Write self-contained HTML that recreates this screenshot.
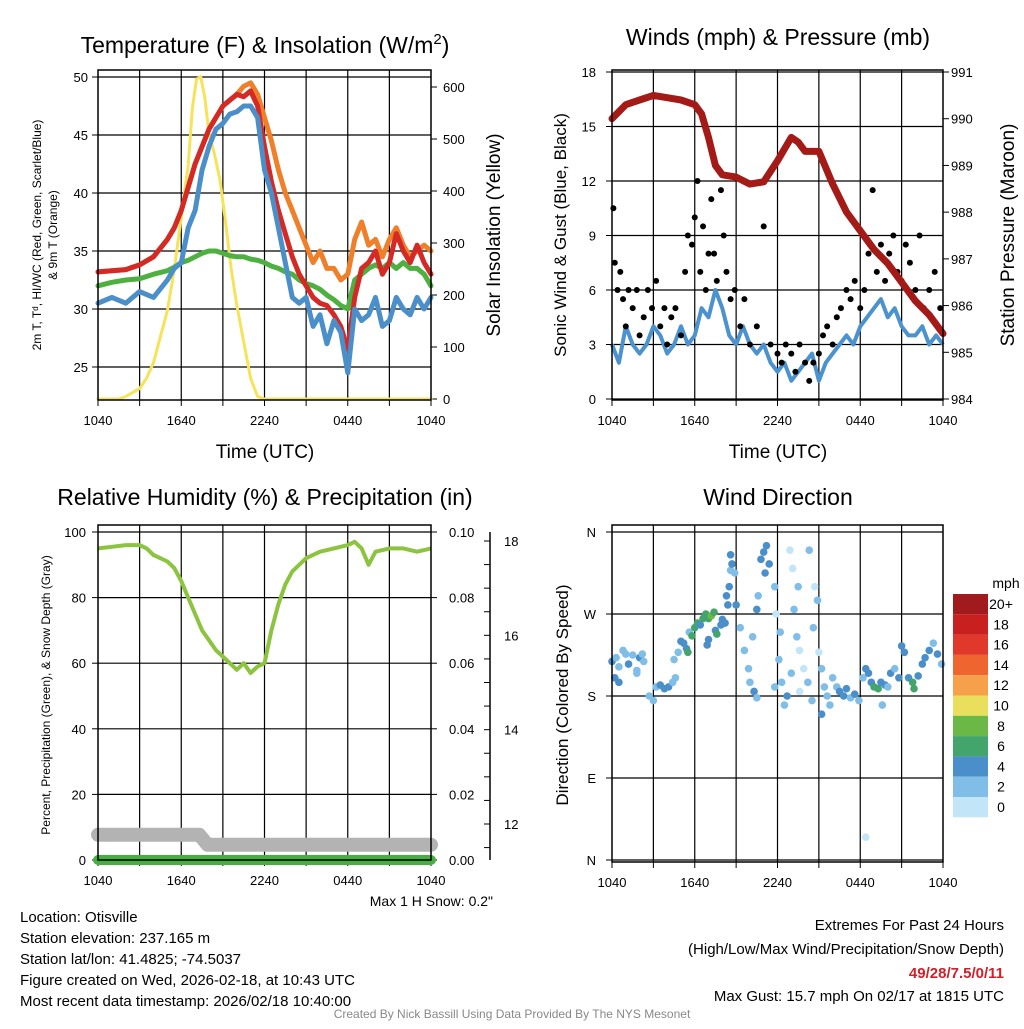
<!DOCTYPE html>
<html><head><meta charset="utf-8"><style>
body{margin:0;background:#fff;width:1024px;height:1024px;overflow:hidden}
svg text{font-family:"Liberation Sans",sans-serif;fill:#000}
</style></head><body>
<svg id="s" width="1024" height="1024" viewBox="0 0 1024 1024" xmlns="http://www.w3.org/2000/svg"></svg>
<script>
// ---------- DATA ----------
const tempTimes=[0,1,2,3,4,5,5.5,6,6.5,7,7.5,8,8.5,9,9.5,10,10.5,11,11.5,12,12.5,13,13.5,14,14.5,15,15.5,16,16.5,17,17.5,18,18.5,19,19.5,20,20.5,21,21.5,22,22.5,23,23.5,24];
const tempRed=[33.2,33.3,33.4,33.8,34.5,36,37,38.5,40.5,42.5,44,45.5,46.5,47.5,48,48.5,48.3,48.8,47.5,44,41,38.5,36.5,34.5,33,32,31,30.5,30.3,29.5,28.5,26.5,31,33.5,34,35,33,34,36.5,35,34,35.5,34,33];
const tempOrange=[33.2,33.3,33.4,33.8,34.5,36,37,38.5,40.5,42.5,44,45.5,46.5,47.5,48,48.5,49.2,49.5,48.5,46.5,44.5,42,40,38.5,37,35.5,34,35,33.5,33.5,32.5,33,36,37.5,35.5,36,34.5,36,37,35.5,34.5,35,35.5,35];
const tempBlue=[30.5,31,30.5,31.5,31,32.5,33.5,34,37,38.5,42,44,45.5,46,46.8,47,47.5,47.5,46.5,42,40,37,34,31,30.5,31,28.5,29.5,27,29,28,24.5,30,29,29.5,31,28.5,29,31,30,29.5,31,30,31];
const tempGreen=[32,32.3,32.5,32.6,33,33.3,33.6,34,34.2,34.5,34.8,35,35,34.8,34.6,34.5,34.5,34.3,34.2,34,33.7,33.5,33.2,33,32.5,32.2,32,31.7,31.2,30.8,30.3,30,32.5,33,33.5,33.8,33.5,34,33.5,34,33.5,33.5,33,32];
const solTimes=[0,1.5,2,3,3.5,4,4.5,5,5.5,6,6.5,6.8,7.1,7.4,7.7,8,8.4,8.8,9.2,9.6,10,10.5,11,11.5,12,24];
const solVals=[0,0,5,20,40,70,120,170,250,350,450,560,615,620,580,510,470,420,340,250,180,110,40,5,0,0];
const presTimes=[0,1,2,3,4,5,6,6.5,7,7.5,8,9,10,11,12,13,13.5,14,15,16,17,18,19,20,21,22,23,24];
const presVals=[990,990.3,990.4,990.5,990.45,990.4,990.3,990.1,989.6,989.0,988.8,988.75,988.6,988.65,989.1,989.6,989.5,989.3,989.3,988.6,988.0,987.6,987.2,986.9,986.5,986.1,985.8,985.4];
const windTimes=[0,0.5,1,1.5,2,2.5,3,3.5,4,4.5,5,5.5,6,6.5,7,7.5,8,8.5,9,9.5,10,10.5,11,11.5,12,12.5,13,13.5,14,14.5,15,15.5,16,16.5,17,17.5,18,18.5,19,19.5,20,20.5,21,21.5,22,22.5,23,23.5,24];
const windVals=[3,2,4,3,2.5,3,4,3.5,2.5,3,4,3,3.5,5,4.5,6,5,3.5,3,4,3,2.5,3,2,1.5,2,1,1.5,2,2.5,1,2,2.5,3,3.5,3,4,4.5,5,5.5,4.5,5,4,3.5,3.5,4,3,3.5,3];
const gustTimes=[0.1,0.2,0.4,0.6,0.8,1,1.2,1.5,1.8,2,2.3,2.6,2.9,3.2,3.5,3.8,4,4.3,4.6,5,5.3,5.5,5.8,6,6.2,6.4,6.6,6.8,7,7.2,7.4,7.6,7.9,8.1,8.3,8.6,8.9,9.3,9.6,10,10.5,11,11.5,12,12.3,12.6,13,13.3,13.6,14,14.3,14.6,15,15.3,15.6,16,16.3,16.6,17,17.3,17.6,18,18.3,18.6,18.9,19.2,19.5,19.8,20.1,20.4,20.7,21,21.3,21.6,22,22.3,22.6,23,23.4,23.8];
const gustVals=[10.5,7.5,6,7,5.5,4,6,5,6,3.5,4.5,6,5,6.5,4,5,3,4.5,5,3.5,7,9,8.5,10,12,7,9.5,6,8,11,8,6.5,11.5,9,7,5.5,6,4,5.5,3,4,9.5,3,2.5,2,3,2.5,1.5,3,2,1,2,2.5,3.5,4,3,4.5,5,6,5.5,6.5,5,6,8,11.5,7,8.5,6.5,8,9,7,6.5,8.5,7.5,6,9,5,6,7,5];
const rhTimes=[0,1,2,3,3.5,4,4.5,5,5.5,6,6.5,7,7.5,8,8.5,9,9.5,10,10.5,11,11.5,12,12.5,13,13.5,14,15,16,17,18,18.5,19,19.5,20,21,22,23,24];
const rhVals=[95,95.5,96,96,95,93,92,91,89,85,80,75,70,67,64,62,60,58,60,57,59,60,70,78,84,88,92,94,95,96,97,95,90,94,95,95,94,95];
const snowTimes=[0,7.3,7.9,24];
const snowVals=[11.77,11.77,11.56,11.56];
const precipVals=[0,0];
const dirTimes=[0,0.3,0.5,0.8,1,1.2,1.5,1.8,2,2.3,0.2,0.5,1.8,2.2,2.7,3,3.2,3.5,3.8,4.1,4.4,4.6,4.5,4.8,5,5.2,5.4,5.6,5.8,6,6.2,6.4,6.6,6.8,7,7.2,7.4,7,7.5,7.6,7.9,8,8.2,6.9,5.5,8.3,8.5,8.6,8.7,8.4,8.6,8.9,9,9.3,9.6,9.9,10,10.3,10.5,10.2,10.5,10.6,10.8,11,11.2,11.4,11.1,11.8,11.9,12.2,12.1,12.3,11.8,12.5,12.7,12.9,13.1,13.5,13.2,13.4,13.6,13,13.9,13.6,14.2,14.5,14.3,14.7,14.9,14.6,15,15.2,15.4,15.6,15.2,15.8,16,16.3,16.5,16.8,17,17.3,17.6,17.9,18.2,18.4,18.6,18.8,19,19.3,19.5,19.8,20,18.4,19.6,20.2,20.5,20.8,21,21.2,21.5,21.8,21.9,22.2,22.5,22.7,23,23.3,23.6,23.9];
const dirVals=[218,222,212,230,226,215,225,208,222,218,200,195,205,226,180,175,190,192,188,190,195,200,220,228,240,238,232,250,246,255,260,258,265,270,265,268,272,242,252,248,258,264,260,236,228,290,300,318,325,280,335,315,280,255,230,210,195,185,178,245,275,290,330,338,345,325,315,300,270,250,220,195,190,170,180,340,320,300,275,245,230,205,210,185,195,175,340,300,285,255,228,210,190,180,160,170,200,190,185,180,188,178,182,175,200,210,205,195,190,188,195,192,190,25,170,205,210,200,235,228,200,195,188,202,215,222,230,238,226,215];
const dirSpeeds=[4,2,2,2,2,4,2,2,4,2,4,4,2,2,2,2,2,4,4,4,2,2,2,2,4,4,4,2,6,6,6,4,6,6,6,8,6,4,4,6,4,4,4,4,6,4,4,2,4,4,4,2,4,2,2,2,2,4,2,2,4,2,4,4,4,4,4,2,0,2,2,2,2,2,4,0,0,2,2,2,0,2,0,0,2,2,2,0,2,2,0,2,2,2,4,2,2,2,4,4,4,2,4,2,2,4,4,4,6,6,4,4,2,0,2,4,2,4,4,4,4,6,6,4,4,4,4,2,4,2];
const cbLabels=["20+","18","16","14","12","10","8","6","4","2","0"];
const cbColors=["#a01a1e","#c8201f","#e0392b","#ee6530","#f7a04b","#e9df5c","#6cb847","#43a56b","#4a8fc9","#80bee7","#c2e6f7"];
const xTickLabels=["1040","1640","2240","0440","1040"];
const xTickHours=[0,6,12,18,24];

// ---------- HELPERS ----------
const S=document.getElementById('s');
const NS='http://www.w3.org/2000/svg';
function mk(tag,attrs,parent){const e=document.createElementNS(NS,tag);for(const k in attrs)e.setAttribute(k,attrs[k]);(parent||S).appendChild(e);return e;}
function txt(x,y,s,size,anchor,parent,rot){const e=mk('text',{x:x,y:y,'font-size':size,'text-anchor':anchor||'middle'},parent);if(rot)e.setAttribute('transform','rotate('+rot+' '+x+' '+y+')');e.textContent=s;return e;}
function lin(a,b,c,d){return v=>c+(v-a)*(d-c)/(b-a);}
function pathOf(xs,ys,fx,fy){return xs.map((t,i)=>(i?'L':'M')+fx(t).toFixed(1)+','+fy(ys[i]).toFixed(1)).join('');}

function panel(name,x0,x1,y0,y1){
  const g=mk('g',{});
  
  
  const fx=lin(0,24,x0,x1);
  for(let h=3;h<24;h+=3){mk('line',{x1:fx(h),x2:fx(h),y1:y0,y2:y1,stroke:'#000','stroke-width':1.2},g);}
  const ga=mk('g',{},g);
  
  
  for(let h=0;h<=24;h+=3){mk('line',{x1:fx(h),x2:fx(h),y1:y1,y2:y1+6,stroke:'#000','stroke-width':1},ga);}
  xTickHours.forEach((h,i)=>txt(fx(h),y1+25,xTickLabels[i],13,'middle',ga));
  return {g,fx};
}
function frame(g,x0,x1,y0,y1){mk('rect',{x:x0,y:y0,width:x1-x0,height:y1-y0,fill:'none',stroke:'#000','stroke-width':1.5},g);}

// ---------- PANEL 1: Temperature ----------
(function(){
  const x0=98,x1=431,y0=70,y1=400;
  const p=panel('temperature-panel',x0,x1,y0,y1);const g=p.g,fx=p.fx;
  const fy=lin(50,25,77,367), fs=lin(0,600,399,87);
  [25,30,35,40,45,50].forEach(v=>{mk('line',{x1:x0,x2:x1,y1:fy(v),y2:fy(v),stroke:'#000','stroke-width':1.2},g);mk('line',{x1:x0-6,x2:x0,y1:fy(v),y2:fy(v),stroke:'#000'},g);txt(x0-10,fy(v)+5,String(v),13,'end',g);});
  [0,100,200,300,400,500,600].forEach(v=>{mk('line',{x1:x1,x2:x1+6,y1:fs(v),y2:fs(v),stroke:'#000'},g);txt(x1+12,fs(v)+5,String(v),13,'start',g);});
  const series=[['solar-insolation-line',solTimes,solVals,fs,'#f6e35a',3],['temp-9m-orange-line',tempTimes,tempOrange,fy,'#f07f2a',5],['temp-green-line',tempTimes,tempGreen,fy,'#4db040',5],['temp-2m-red-line',tempTimes,tempRed,fy,'#d42a26',5],['wind-chill-blue-line',tempTimes,tempBlue,fy,'#4b8fca',5]];
  series.forEach(s=>{const e=mk('path',{d:pathOf(s[1],s[2],fx,s[3]),fill:'none',stroke:s[4],'stroke-width':s[5],'stroke-linejoin':'round','stroke-linecap':'round'},g);});
  frame(g,x0,x1,y0,y1);
  const t=txt(265,53,'Temperature (F) & Insolation (W/m',23,'middle',g);
  const sup=mk('tspan',{dy:-9,'font-size':15},t);sup.textContent='2';
  const cl=mk('tspan',{dy:9},t);cl.textContent=')';
  
  txt(265,458,'Time (UTC)',19,'middle',g);
  txt(41,235,'2m T, T\u1d48, HI/WC (Red, Green, Scarlet/Blue)',12,'middle',g,-90);
  txt(57,235,'& 9m T (Orange)',12,'middle',g,-90);
  txt(500,235,'Solar Insolation (Yellow)',19,'middle',g,-90);
})();

// ---------- PANEL 2: Winds ----------
(function(){
  const x0=612,x1=943,y0=70,y1=400;
  const p=panel('winds-panel',x0,x1,y0,y1);const g=p.g,fx=p.fx;
  const fy=lin(0,18,399,72), fp=lin(984,991,399,72);
  [0,3,6,9,12,15,18].forEach(v=>{mk('line',{x1:x0,x2:x1,y1:fy(v),y2:fy(v),stroke:'#000','stroke-width':1.2},g);mk('line',{x1:x0-6,x2:x0,y1:fy(v),y2:fy(v),stroke:'#000'},g);txt(x0-16,fy(v)+5,String(v),13,'end',g);});
  [984,985,986,987,988,989,990,991].forEach(v=>{mk('line',{x1:x1,x2:x1+6,y1:fp(v),y2:fp(v),stroke:'#000'},g);txt(x1+8,fp(v)+5,String(v),13,'start',g);});
  const w=mk('path',{d:pathOf(windTimes,windVals,fx,fy),fill:'none',stroke:'#4b92cf','stroke-width':4,'stroke-linejoin':'round'},g);
  
  gustTimes.forEach((t,i)=>{const c=mk('circle',{cx:fx(t),cy:fy(gustVals[i]),r:3,fill:'#000'},g);});
  const pr=mk('path',{d:pathOf(presTimes,presVals,fx,fp),fill:'none',stroke:'#a31a17','stroke-width':7,'stroke-linejoin':'round','stroke-linecap':'round'},g);
  
  frame(g,x0,x1,y0,y1);
  txt(778,45,'Winds (mph) & Pressure (mb)',23,'middle',g);
  txt(778,458,'Time (UTC)',19,'middle',g);
  txt(566,235,'Sonic Wind & Gust (Blue, Black)',17,'middle',g,-90);
  txt(1014,235,'Station Pressure (Maroon)',19,'middle',g,-90);
})();

// ---------- PANEL 3: RH ----------
(function(){
  const x0=98,x1=431,y0=525,y1=860;
  const p=panel('humidity-panel',x0,x1,y0,y1);const g=p.g,fx=p.fx;
  const fy=lin(0,100,860,532), fq=lin(0,0.1,860,532), fsn=lin(12,18,824,541);
  [0,20,40,60,80,100].forEach(v=>{mk('line',{x1:x0,x2:x1,y1:fy(v),y2:fy(v),stroke:'#000','stroke-width':1.2},g);mk('line',{x1:x0-6,x2:x0,y1:fy(v),y2:fy(v),stroke:'#000'},g);txt(x0-12,fy(v)+5,String(v),13,'end',g);});
  [0,0.02,0.04,0.06,0.08,0.1].forEach(v=>{mk('line',{x1:x1,x2:x1+6,y1:fq(v),y2:fq(v),stroke:'#000'},g);txt(x1+18,fq(v)+5,v.toFixed(2),13,'start',g);});
  mk('line',{x1:490,x2:490,y1:532,y2:860,stroke:'#000','stroke-width':1.5},g);
  for(let v=11.5;v<=18.01;v+=0.5){mk('line',{x1:484,x2:490,y1:fsn(v),y2:fsn(v),stroke:'#000'},g);}
  [12,14,16,18].forEach(v=>txt(504,fsn(v)+5,String(v),13,'start',g));
  const sn=mk('path',{d:pathOf(snowTimes,snowVals,fx,fsn),fill:'none',stroke:'#b3b3b3','stroke-width':14,'stroke-linecap':'round','stroke-linejoin':'round'},g);
  
  const pq=mk('path',{d:pathOf([0,24],precipVals,fx,fq),fill:'none',stroke:'#45b040','stroke-width':10,'stroke-linecap':'round'},g);
  
  const rh=mk('path',{d:pathOf(rhTimes,rhVals,fx,fy),fill:'none',stroke:'#8cc43f','stroke-width':4,'stroke-linejoin':'round'},g);
  
  frame(g,x0,x1,y0,y1);
  txt(265,505,'Relative Humidity (%) & Precipitation (in)',23,'middle',g);
  txt(50,695,'Percent, Precipitation (Green), & Snow Depth (Gray)',12,'middle',g,-90);
  txt(493,906,'Max 1 H Snow: 0.2"',14,'end',g);
})();

// ---------- PANEL 4: Wind Direction ----------
(function(){
  const x0=612,x1=943,y0=525,y1=862;
  const p=panel('wind-direction-panel',x0,x1,y0,y1);const g=p.g,fx=p.fx;
  const fd=lin(0,360,860,532);
  const labs=['N','E','S','W','N'];
  [0,90,180,270,360].forEach((v,i)=>{mk('line',{x1:x0,x2:x1,y1:fd(v),y2:fd(v),stroke:'#000','stroke-width':1.2},g);mk('line',{x1:x0-6,x2:x0,y1:fd(v),y2:fd(v),stroke:'#000'},g);txt(x0-16,fd(v)+5,labs[i],13,'end',g);});
  dirTimes.forEach((t,i)=>{const sp=dirSpeeds[i];const ci=10-Math.min(10,Math.round(sp/2));const c=mk('circle',{cx:fx(t),cy:fd(dirVals[i]),r:3.8,fill:cbColors[ci]},g);});
  frame(g,x0,x1,y0,y1);
  txt(778,505,'Wind Direction',23,'middle',g);
  txt(568,695,'Direction (Colored By Speed)',17,'middle',g,-90);
  const cb=mk('g',{},g);
  txt(1006,588,'mph',14,'middle',cb);
  cbLabels.forEach((l,i)=>{mk('rect',{x:953,y:594+i*20.3,width:35,height:20.3,fill:cbColors[i]},cb);txt(1001,609+i*20.3,l,14,'middle',cb);});
})();

// ---------- FOOTER ----------
(function(){
  const g=mk('g',{});
  ['Location: Otisville','Station elevation: 237.165 m','Station lat/lon: 41.4825; -74.5037','Figure created on Wed, 2026-02-18, at 10:43 UTC','Most recent data timestamp: 2026/02/18 10:40:00'].forEach((s,i)=>txt(20,922+i*21,s,15,'start',g));
  txt(1004,930,'Extremes For Past 24 Hours',15,'end',g);
  txt(1004,954,'(High/Low/Max Wind/Precipitation/Snow Depth)',15,'end',g);
  const r=txt(1004,978,'49/28/7.5/0/11',15,'end',g);r.setAttribute('style','fill:#d0202a;font-weight:bold');
  txt(1004,1001,'Max Gust: 15.7 mph On 02/17 at 1815 UTC',15,'end',g);
  const c=txt(512,1018,'Created By Nick Bassill Using Data Provided By The NYS Mesonet',12,'middle',g);c.setAttribute('style','fill:#888');
})();
</script>
</body></html>
